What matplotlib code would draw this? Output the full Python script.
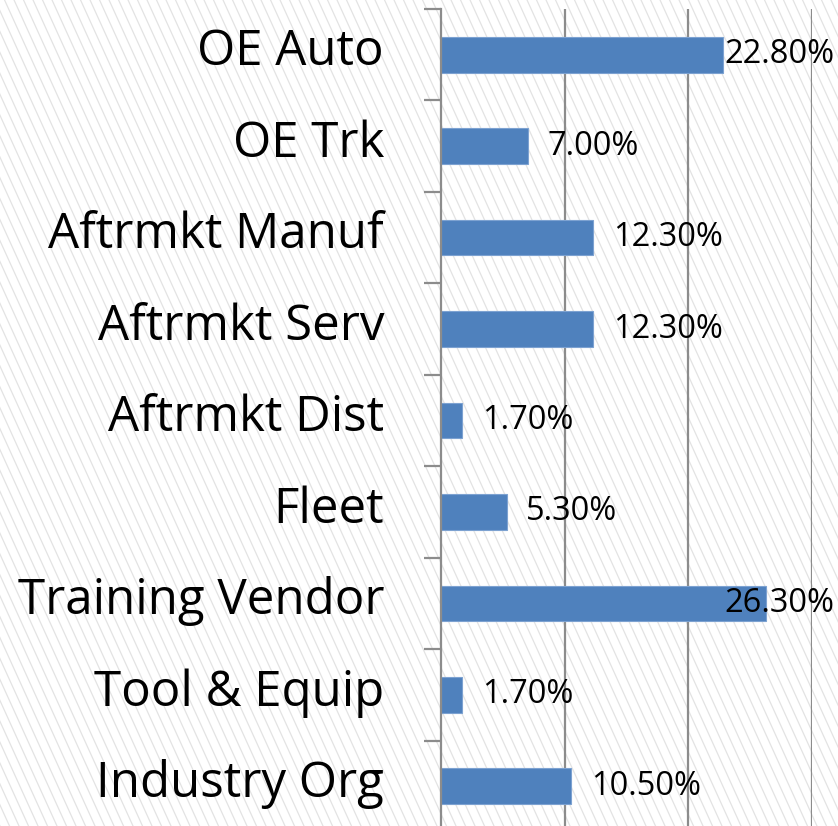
import numpy as np
import matplotlib.pyplot as plt
from matplotlib.transforms import ScaledTranslation

categories = ["OE Auto", "OE Trk", "Aftrmkt Manuf", "Aftrmkt Serv", "Aftrmkt Dist",
              "Fleet", "Training Vendor", "Tool & Equip", "Industry Org"]
shares = [0.228, 0.070, 0.123, 0.123, 0.017, 0.053, 0.263, 0.017, 0.105]
labels = ["22.80%", "7.00%", "12.30%", "12.30%", "1.70%", "5.30%", "26.30%", "1.70%", "10.50%"]

W, H = 838, 826
fig = plt.figure(figsize=(W / 100, H / 100), dpi=100)
fig.patch.set_facecolor("white")

# diagonal hatched background
bg = fig.add_axes([0, 0, 1, 1], zorder=-1)
bg.set_xlim(0, W)
bg.set_ylim(H, 0)
bg.axis("off")
slope = 2.2
for x0 in np.arange(-H / slope, W + 10, 9.5):
    bg.plot([x0, x0 + H / slope], [0, H], color="#e3e3e3", lw=0.9)

gray = "#8c8c8c"
ax = fig.add_axes([441 / W, (H - 832) / H, (812 - 441) / W, (832 - 9) / H])
ax.set_facecolor("none")
y = np.arange(len(categories))
ax.barh(y, shares, height=0.39, color="#4f81bd", edgecolor="#7da2d1", lw=0.8, zorder=3)
ax.set_xlim(0, 0.30)
ax.set_ylim(len(categories) - 0.5, -0.5)

for s in ["top", "right", "bottom"]:
    ax.spines[s].set_visible(False)
ax.spines["left"].set_color(gray)
ax.spines["left"].set_linewidth(1.6)
ax.spines["left"].set_zorder(4)
ax.set_xticks([0.1, 0.2, 0.3])
ax.set_xticklabels([])
ax.tick_params(axis="x", length=0)
ax.grid(axis="x", color=gray, lw=1.6)
ax.set_axisbelow(True)

ax.set_yticks(y)
ax.set_yticklabels(categories, fontsize=35.5, family="Open Sans")
ax.tick_params(axis="y", which="major", length=0, pad=41)
ax.set_yticks(np.arange(len(categories) + 1) - 0.5, minor=True)
ax.tick_params(axis="y", which="minor", length=12, width=1.6, color=gray)
# category names sit a little above the bar centre
shift = ScaledTranslation(0, 8 / 100, fig.dpi_scale_trans)
for lab in ax.get_yticklabels():
    lab.set_transform(lab.get_transform() + shift)

# value labels, pushed back inside the chart when too long
fig.canvas.draw()
r = fig.canvas.get_renderer()
limit_px = 834
for yi, v, lab in zip(y, shares, labels):
    t = ax.text(v + 0.016, yi, lab, fontsize=23.5, family="Open Sans",
                va="center", ha="left", zorder=5)
    bb = t.get_window_extent(r)
    if bb.x1 > limit_px:
        xd = ax.transData.inverted().transform((limit_px, 0))[0]
        t.set_x(xd)
        t.set_ha("right")

fig.savefig("out.png", dpi=100)
